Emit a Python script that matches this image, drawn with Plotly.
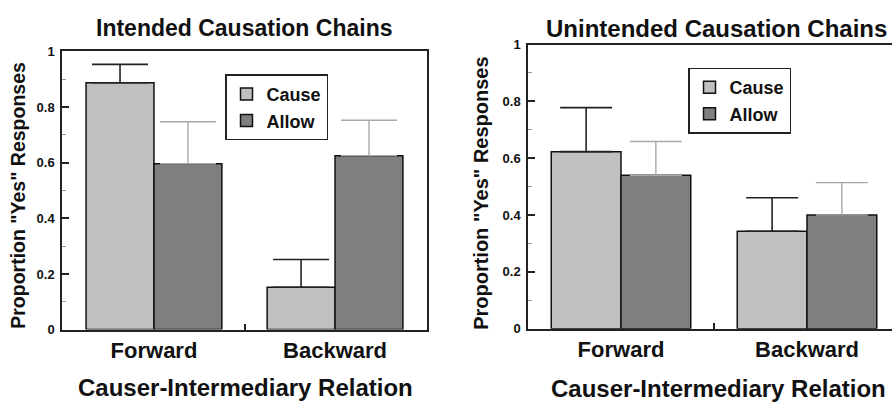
import plotly.graph_objects as go

groups = ["Forward", "Backward"]
group_pos = [0, 1]

intended_cause = [0.887, 0.152]
intended_cause_err = [0.066, 0.100]
intended_allow = [0.596, 0.625]
intended_allow_err = [0.151, 0.127]

unintended_cause = [0.623, 0.343]
unintended_cause_err = [0.155, 0.118]
unintended_allow = [0.540, 0.400]
unintended_allow_err = [0.119, 0.114]

y_ticks = [0, 0.2, 0.4, 0.6, 0.8, 1]

CAUSE_FILL = "#c0c0c0"
ALLOW_FILL = "#7f7f7f"
FONT = "Liberation Sans, Arial, sans-serif"
INK = "#111"

fig = go.Figure()

def add_pair(cause, cause_err, allow, allow_err, xa, ya, legend, cap):
    fig.add_trace(go.Bar(
        x=group_pos, y=cause, name="Cause", xaxis=xa, yaxis=ya, legend=legend,
        marker=dict(color=CAUSE_FILL, line=dict(color=INK, width=1.5)),
        error_y=dict(type="data", array=cause_err, arrayminus=[0, 0], symmetric=False,
                     color="#222", thickness=1.6, width=cap),
    ))
    fig.add_trace(go.Bar(
        x=group_pos, y=allow, name="Allow", xaxis=xa, yaxis=ya, legend=legend,
        marker=dict(color=ALLOW_FILL, line=dict(color=INK, width=1.5)),
        error_y=dict(type="data", array=allow_err, arrayminus=[0, 0], symmetric=False,
                     color="#a8a8a8", thickness=1.4, width=cap),
    ))

add_pair(intended_cause, intended_cause_err, intended_allow, intended_allow_err, "x", "y", "legend", 28)
add_pair(unintended_cause, unintended_cause_err, unintended_allow, unintended_allow_err, "x2", "y2", "legend2", 26)

W, H = 892, 406
def px_x(p): return p / W
def px_y(p): return 1 - p / H

xcommon = dict(
    tickmode="array", tickvals=group_pos, ticktext=groups, ticks="",
    tickfont=dict(family=FONT, size=22, color=INK, weight="bold"),
    showline=True, linecolor="#222", linewidth=1.5,
    showgrid=False, zeroline=False,
    minor=dict(tickmode="array", tickvals=[0.5], ticks="inside", ticklen=6,
               tickcolor="#222", tickwidth=1.5),
)
ycommon = dict(
    range=[0, 1], tickmode="array", tickvals=y_ticks, ticks="inside", ticklen=7,
    tickcolor="#222", tickwidth=1.5, ticklabelstandoff=3,
    tickfont=dict(family=FONT, size=13, color=INK, weight="bold"),
    showline=True, linecolor="#222", linewidth=1.5,
    showgrid=False, zeroline=False,
    minor=dict(dtick=0.1, ticks="inside", ticklen=4, tickcolor="#999", tickwidth=1),
)

legend_common = dict(xanchor="left", yanchor="top",
                     bordercolor="#222", borderwidth=1.5, bgcolor="white",
                     font=dict(family=FONT, size=18, color=INK, weight="bold"),
                     tracegroupgap=0, itemwidth=30)

def text_ann(text, x, y, size, angle=0, xanchor="center"):
    return dict(text=text, x=px_x(x), y=px_y(y), xref="paper", yref="paper",
                showarrow=False, xanchor=xanchor, yanchor="middle", textangle=angle,
                font=dict(family=FONT, size=size, color=INK, weight="bold"))

fig.update_layout(
    width=W, height=H, margin=dict(l=0, r=0, t=0, b=0),
    paper_bgcolor="white", plot_bgcolor="white",
    barmode="group", bargap=0.25, bargroupgap=0,
    font=dict(family=FONT, color=INK),
    xaxis=dict(xcommon, domain=[px_x(62), px_x(427)], range=[-0.508, 1.508], mirror=True, anchor="y"),
    yaxis=dict(ycommon, domain=[px_y(335), px_y(46)], mirror=True, anchor="x"),
    xaxis2=dict(xcommon, domain=[px_x(528), 1.0], range=[-0.5, 1.457], mirror=True, anchor="y2"),
    yaxis2=dict(ycommon, domain=[px_y(334), px_y(39)], mirror=False, anchor="x2"),
    legend=dict(legend_common, x=px_x(225), y=px_y(70)),
    legend2=dict(legend_common, x=px_x(688), y=px_y(63)),
    showlegend=True,
    annotations=[
        text_ann("Intended Causation Chains", 244, 22, 23),
        text_ann("Unintended Causation Chains", 544, 22, 24, xanchor="left"),
        text_ann("Causer-Intermediary Relation", 245, 395, 24),
        text_ann("Causer-Intermediary Relation", 718, 396, 24),
        text_ann('Proportion "Yes" Responses', 18, 196, 19.5, angle=-90),
        text_ann('Proportion "Yes" Responses', 481, 193, 20, angle=-90),
    ],
)

fig.write_html("out.html")
